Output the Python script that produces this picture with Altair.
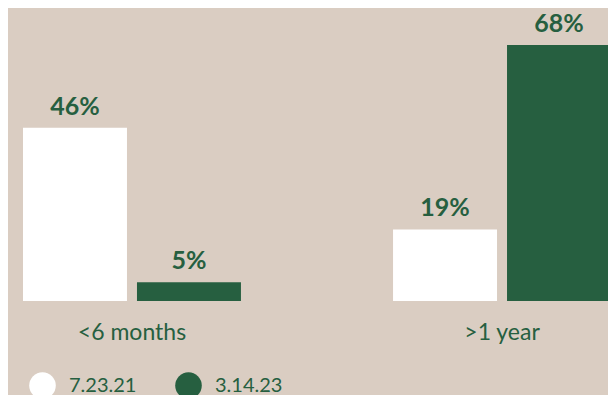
import altair as alt
import pandas as pd

categories = ["<6 months", "<6 months", ">1 year", ">1 year"]
dates = ["7.23.21", "3.14.23", "7.23.21", "3.14.23"]
values = [46, 5, 19, 68]
labels = ["46%", "5%", "19%", "68%"]

df = pd.DataFrame({"category": categories, "date": dates, "value": values, "label": labels})

GREEN = "#265f40"
BG = "#dacdc2"

x = alt.X("category:N", sort=["<6 months", ">1 year"],
          scale=alt.Scale(range=[15, 603], paddingInner=0.411, paddingOuter=0),
          axis=alt.Axis(title=None, labelAngle=0, domain=False, ticks=False, labelPadding=38,
                        labelBaseline="alphabetic",
                        labelFontSize=23, labelFont="Lato", labelColor=GREEN))
xo = alt.XOffset("date:N", sort=["7.23.21", "3.14.23"],
                 scale=alt.Scale(paddingInner=0.0877, paddingOuter=0))
y = alt.Y("value:Q", scale=alt.Scale(domain=[0, 77.8], nice=False), axis=None)

bars = alt.Chart(df).mark_bar().encode(
    x=x, xOffset=xo, y=y,
    color=alt.Color("date:N", sort=["7.23.21", "3.14.23"],
                    scale=alt.Scale(domain=["7.23.21", "3.14.23"], range=["#ffffff", GREEN]),
                    legend=alt.Legend(title=None, orient="none", legendX=21, legendY=364,
                                      direction="horizontal", symbolType="circle", symbolSize=707,
                                      symbolStrokeWidth=0, symbolOpacity=1, labelFontSize=20, labelFont="Lato",
                                      labelColor=GREEN, labelOffset=13, columnPadding=38, padding=0))
)

text = alt.Chart(df).mark_text(baseline="alphabetic", dy=-13, font="Lato", fontWeight="bold",
                               fontSize=25, color=GREEN).encode(
    x=x, xOffset=xo, y=y, text="label:N"
)

chart = (bars + text).properties(
    width=600, height=293,
    autosize=alt.AutoSizeParams(type="none"),
    padding={"left": 0, "top": 0, "right": 0, "bottom": 94},
    background=BG,
).configure_view(stroke=None)

chart.save("out.html", embed_options={"renderer": "svg", "actions": False})
